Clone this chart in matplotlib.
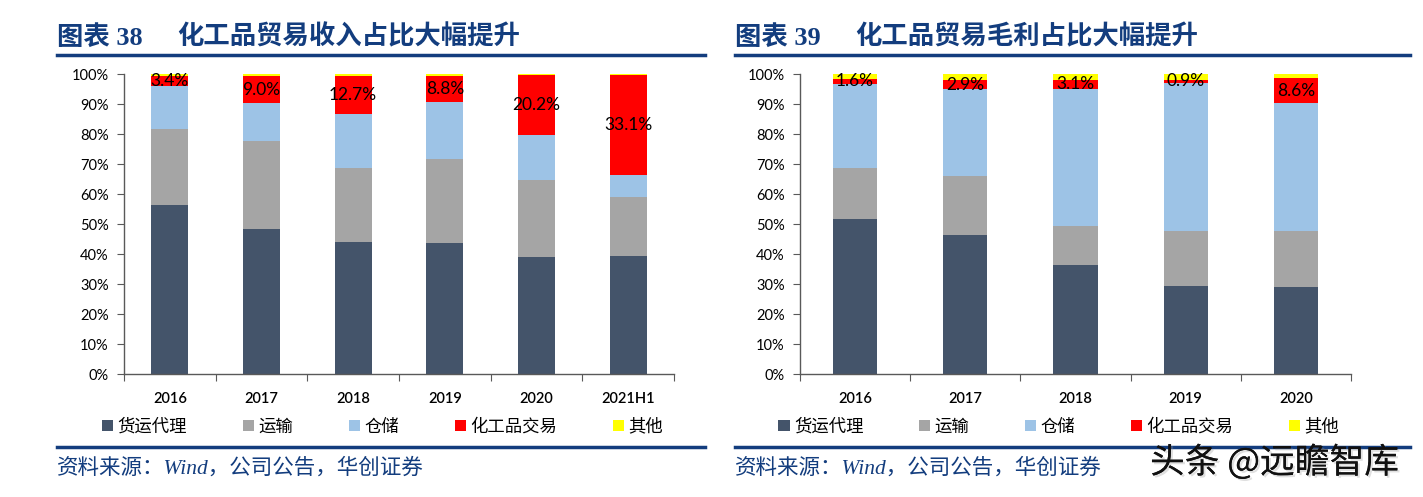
import numpy as np
import matplotlib.pyplot as plt
import matplotlib.patheffects as pe
from matplotlib.lines import Line2D
from matplotlib.patches import Patch

# left chart: revenue mix (%)
cats_l = ['2016', '2017', '2018', '2019', '2020', '2021H1']
forwarding_l = [56.4, 48.4, 44.1, 43.7, 39.0, 39.4]
transport_l = [25.3, 29.3, 24.6, 28.0, 25.7, 19.6]
storage_l = [14.3, 12.6, 18.0, 19.0, 14.9, 7.5]
trade_l = [3.4, 9.0, 12.7, 8.8, 20.2, 33.1]
other_l = [0.6, 0.7, 0.6, 0.5, 0.2, 0.4]

# right chart: gross profit mix (%)
cats_r = ['2016', '2017', '2018', '2019', '2020']
forwarding_r = [51.7, 46.2, 36.4, 29.4, 29.1]
transport_r = [17.1, 19.9, 12.8, 18.3, 18.6]
storage_r = [28.0, 28.9, 45.8, 49.4, 42.5]
trade_r = [1.6, 2.9, 3.1, 0.9, 8.6]
other_r = [1.6, 2.1, 1.9, 2.0, 1.2]

names = ['货运代理', '运输', '仓储', '化工品交易', '其他']
colors = ['#44546A', '#A5A5A5', '#9DC3E6', '#FF0000', '#FFFF00']
navy = '#133D7E'
cjk = 'Noto Sans CJK SC'

W, H = 1423, 497
fig = plt.figure(figsize=(W / 100, H / 100), dpi=100)


def draw(ax, cats, series):
    x = np.arange(len(cats))
    bottom = np.zeros(len(cats))
    for vals, c in zip(series, colors):
        ax.bar(x, vals, 0.4, bottom=bottom, color=c, linewidth=0)
        bottom += np.array(vals)
    # labels on red segment
    base = np.array(series[0]) + np.array(series[1]) + np.array(series[2])
    for i, v in enumerate(series[3]):
        ax.text(x[i], base[i] + v / 2, '%.1f%%' % v, ha='center', va='center',
                fontsize=12.5, family='Lato', color='black')
    ax.set_xlim(-0.5, len(cats) - 0.5)
    ax.set_ylim(0, 100)
    ax.set_yticks(np.arange(0, 101, 10))
    ax.set_yticklabels(['%d%%' % v for v in range(0, 101, 10)], family='Lato', fontsize=10.5)
    ax.set_xticks(np.arange(len(cats) + 1) - 0.5)
    ax.set_xticklabels([])
    ax.set_xticks(x, minor=True)
    ax.set_xticklabels(cats, minor=True, family='Lato', fontsize=10.5, weight='semibold')
    ax.tick_params(axis='x', which='major', direction='out', length=5, color='#595959')
    ax.tick_params(axis='x', which='minor', length=0, pad=13)
    ax.tick_params(axis='y', direction='out', length=5, color='#595959', pad=6)
    for s in ['top', 'right']:
        ax.spines[s].set_visible(False)
    for s in ['left', 'bottom']:
        ax.spines[s].set_color('#595959')
        ax.spines[s].set_linewidth(1)
    handles = [Patch(facecolor=c, edgecolor='none') for c in colors]
    ax.legend(handles, names, loc='center', bbox_to_anchor=(0.47, -0.175), ncol=5,
              frameon=False, handlelength=0.65, handleheight=0.65, handletextpad=0.25,
              columnspacing=3.2, prop={'family': cjk, 'size': 12.5})


ax1 = fig.add_axes([124 / W, 1 - 374 / H, 550 / W, 300 / H])
draw(ax1, cats_l, [forwarding_l, transport_l, storage_l, trade_l, other_l])
ax2 = fig.add_axes([800 / W, 1 - 374 / H, 551 / W, 300 / H])
draw(ax2, cats_r, [forwarding_r, transport_r, storage_r, trade_r, other_r])

# titles, rules, sources
for x0, x1, num, txt in [(57, 705, '38', '化工品贸易收入占比大幅提升'),
                         (735, 1410, '39', '化工品贸易毛利占比大幅提升')]:
    fig.text(x0 / W, 1 - 37 / H, '图表 ' + num, fontsize=19, weight='bold',
             color=navy, va='center', family=['Liberation Serif', cjk])
    fig.text((x0 + 120) / W, 1 - 37 / H, txt, fontsize=19, weight='bold',
             color=navy, va='center', family=cjk)
    fig.add_artist(Line2D([x0 / W, x1 / W], [1 - 55 / H] * 2, color=navy, lw=2.5))
    fig.add_artist(Line2D([x0 / W, x1 / W], [1 - 447 / H] * 2, color=navy, lw=2.5))
    fig.text(x0 / W, 1 - 468 / H, '资料来源：Wind，公司公告，华创证券', fontsize=15.5,
             style='italic', color=navy, va='center', family=['Liberation Serif', cjk])

fig.text(1150 / W, 1 - 463 / H, '头条 @远瞻智库', fontsize=25, color='#111111', va='center',
         family=cjk, path_effects=[pe.withSimplePatchShadow(offset=(1.5, -1.5), shadow_rgbFace='#999999'),
                                   pe.Normal()])

fig.savefig('out.png', dpi=100)
